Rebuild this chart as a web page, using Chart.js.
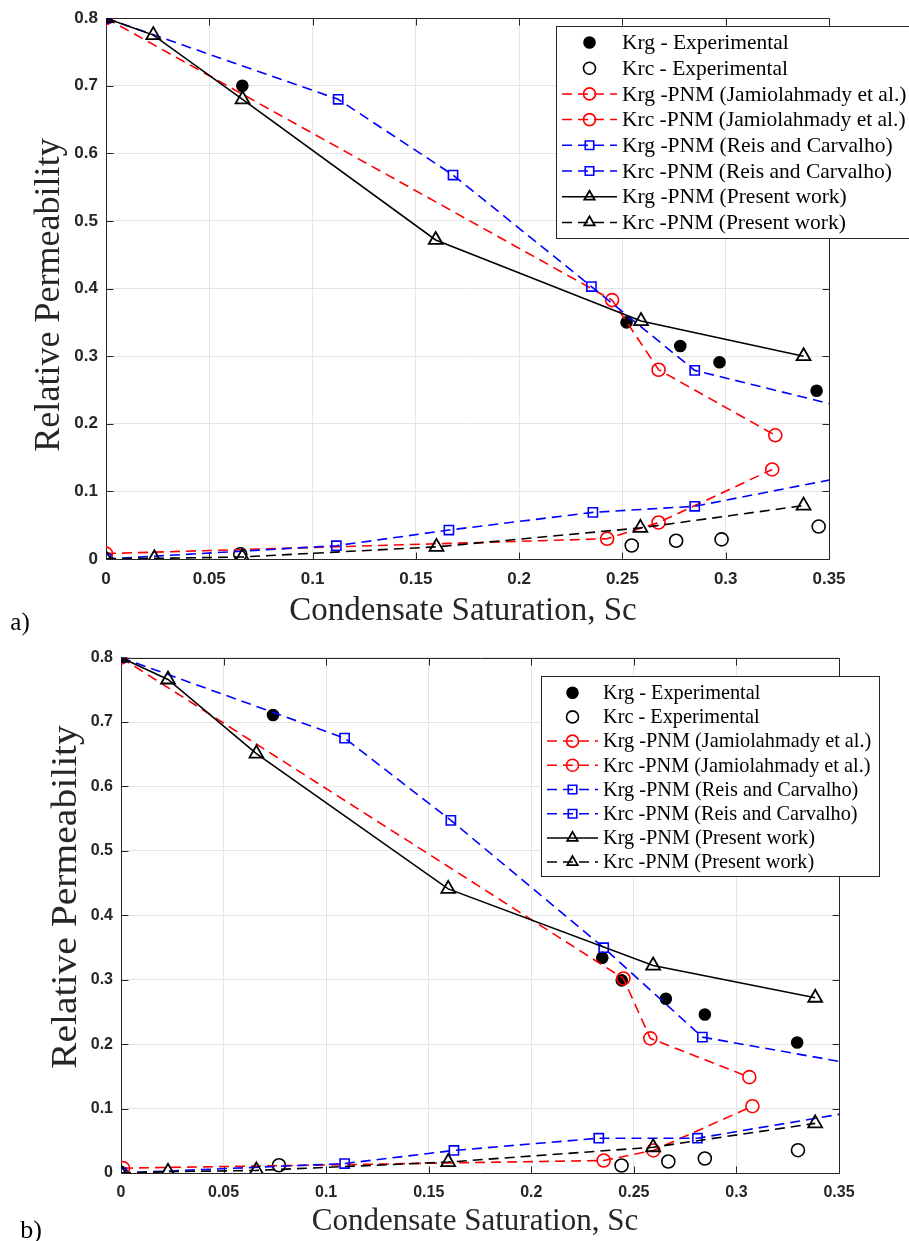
<!DOCTYPE html>
<html>
<head>
<meta charset="utf-8">
<script src="https://cdn.jsdelivr.net/npm/chart.js@4.4.1/dist/chart.umd.min.js"></script>
<style>
  html, body { margin: 0; padding: 0; background: #fff; }
  #wrapA { position: absolute; left: 0; top: 0; width: 909px; height: 640px; }
  #wrapB { position: absolute; left: 0; top: 640px; width: 909px; height: 601px; }
</style>
</head>
<body>
<div id="wrapA"><canvas id="chartA" width="909" height="640"></canvas></div>
<div id="wrapB"><canvas id="chartB" width="909" height="601"></canvas></div>
<script>
const xTickValues = [0, 0.05, 0.1, 0.15, 0.2, 0.25, 0.3, 0.35];
const xTickLabels = ['0', '0.05', '0.1', '0.15', '0.2', '0.25', '0.3', '0.35'];
const yTickValues = [0, 0.1, 0.2, 0.3, 0.4, 0.5, 0.6, 0.7, 0.8];
const yTickLabels = ['0', '0.1', '0.2', '0.3', '0.4', '0.5', '0.6', '0.7', '0.8'];

const xTitle = 'Condensate Saturation, Sc';
const yTitle = 'Relative Permeability';

const seriesNames = [
  'Krg - Experimental',
  'Krc - Experimental',
  'Krg -PNM (Jamiolahmady et al.)',
  'Krc -PNM (Jamiolahmady et al.)',
  'Krg -PNM (Reis and Carvalho)',
  'Krc -PNM (Reis and Carvalho)',
  'Krg -PNM (Present work)',
  'Krc -PNM (Present work)'
];

// panel a)
const aKrgExpX = [0, 0.066, 0.252, 0.278, 0.297, 0.344];
const aKrgExpY = [0.8, 0.70, 0.35, 0.315, 0.291, 0.249];
const aKrcExpX = [0, 0.065, 0.2545, 0.276, 0.298, 0.345];
const aKrcExpY = [0, 0.007, 0.020, 0.027, 0.029, 0.048];
const aKrgJamX = [0, 0.245, 0.2675, 0.324];
const aKrgJamY = [0.8, 0.383, 0.280, 0.183];
const aKrcJamX = [0, 0.2426, 0.2675, 0.3225];
const aKrcJamY = [0.008, 0.030, 0.054, 0.1325];
const aKrgReisX = [0, 0.1124, 0.168, 0.235, 0.285, 0.37];
const aKrgReisY = [0.8, 0.680, 0.568, 0.403, 0.279, 0.215];
const aKrcReisX = [0, 0.1115, 0.166, 0.2357, 0.285, 0.37];
const aKrcReisY = [0, 0.0197, 0.0428, 0.069, 0.078, 0.1286];
const aKrgPresX = [0, 0.0229, 0.0661, 0.1596, 0.259, 0.3377];
const aKrgPresY = [0.8, 0.775, 0.680, 0.472, 0.352, 0.300];
const aKrcPresX = [0, 0.0234, 0.066, 0.16, 0.2587, 0.3377];
const aKrcPresY = [0, 0.001, 0.003, 0.018, 0.046, 0.079];

// panel b)
const bKrgExpX = [0, 0.0741, 0.2346, 0.2441, 0.2656, 0.2846, 0.3296];
const bKrgExpY = [0.8, 0.711, 0.334, 0.299, 0.2705, 0.246, 0.2026];
const bKrcExpX = [0, 0.077, 0.244, 0.2668, 0.2846, 0.330];
const bKrcExpY = [0, 0.012, 0.0116, 0.0179, 0.0225, 0.0354];
const bKrgJamX = [0, 0.2449, 0.258, 0.3063];
const bKrgJamY = [0.8, 0.302, 0.209, 0.1488];
const bKrcJamX = [0.001, 0.2353, 0.2595, 0.3078];
const bKrcJamY = [0.0075, 0.0194, 0.035, 0.1037];
const bKrgReisX = [0, 0.109, 0.1608, 0.2353, 0.2834, 0.37];
const bKrgReisY = [0.8, 0.675, 0.5474, 0.3497, 0.2109, 0.162];
const bKrcReisX = [0, 0.109, 0.1623, 0.2329, 0.281, 0.37];
const bKrcReisY = [0, 0.0147, 0.035, 0.054, 0.054, 0.1017];
const bKrgPresX = [0, 0.0229, 0.066, 0.1595, 0.2594, 0.3384];
const bKrgPresY = [0.8, 0.766, 0.651, 0.441, 0.322, 0.272];
const bKrcPresX = [0, 0.0229, 0.066, 0.1595, 0.2594, 0.3384];
const bKrcPresY = [0, 0.002, 0.004, 0.017, 0.040, 0.077];

const seriesStyles = [
  { color: '#000000', line: false, marker: 'circle', r: 5.5, filled: true },
  { color: '#000000', line: false, marker: 'circle', r: 6.5 },
  { color: '#ff0000', dash: [10, 6], marker: 'circle', r: 6.5 },
  { color: '#ff0000', dash: [10, 6], marker: 'circle', r: 6.5 },
  { color: '#0000ff', dash: [10, 6], marker: 'rect', r: 6.5 },
  { color: '#0000ff', dash: [10, 6], marker: 'rect', r: 6.5 },
  { color: '#000000', dash: [], marker: 'triangle', r: 8 },
  { color: '#000000', dash: [10, 6], marker: 'triangle', r: 8 }
];

Chart.defaults.font.family = '"Liberation Sans", Arial, sans-serif';

function buildDatasets(xs, ys) {
  return seriesStyles.map((st, i) => ({
    label: seriesNames[i],
    data: xs[i].map((x, j) => ({ x: x, y: ys[i][j] })),
    showLine: st.line !== false,
    borderColor: st.color,
    borderWidth: 1.6,
    borderDash: st.dash || [],
    pointStyle: st.marker,
    pointRadius: st.r,
    pointBorderWidth: st.marker === 'triangle' ? 1.8 : 1.6,
    pointBorderColor: st.color,
    pointBackgroundColor: st.filled ? st.color : 'rgba(0,0,0,0)',
    backgroundColor: st.filled ? st.color : 'rgba(0,0,0,0)',
    fill: false,
    tension: 0,
    order: seriesStyles.length - i
  }));
}

function drawMarker(ctx, st, x, y) {
  ctx.save();
  ctx.setLineDash([]);
  ctx.strokeStyle = st.color;
  ctx.fillStyle = st.filled ? st.color : 'rgba(0,0,0,0)';
  ctx.lineWidth = st.marker === 'triangle' ? 1.8 : 1.6;
  ctx.beginPath();
  if (st.marker === 'circle') {
    ctx.arc(x, y, st.r, 0, Math.PI * 2);
  } else if (st.marker === 'rect') {
    const s = st.r * Math.SQRT1_2;
    ctx.rect(x - s, y - s, 2 * s, 2 * s);
  } else {
    const r = st.r;
    ctx.moveTo(x, y - r);
    ctx.lineTo(x + 0.866 * r, y + 0.5 * r);
    ctx.lineTo(x - 0.866 * r, y + 0.5 * r);
    ctx.closePath();
  }
  if (st.filled) ctx.fill();
  ctx.stroke();
  ctx.restore();
}

// box, inward ticks
const framePlugin = {
  id: 'matlabFrame',
  beforeDatasetsDraw(chart) {
    const { ctx, chartArea: a, scales } = chart;
    const l = Math.round(a.left) + 0.5, r = Math.round(a.right) + 0.5;
    const t = Math.round(a.top) + 0.5, b = Math.round(a.bottom) + 0.5;
    const tl = 7;
    ctx.save();
    ctx.strokeStyle = '#262626';
    ctx.lineWidth = 1;
    ctx.beginPath();
    ctx.rect(l, t, r - l, b - t);
    scales.x.ticks.forEach(tk => {
      const px = Math.round(scales.x.getPixelForValue(tk.value)) + 0.5;
      ctx.moveTo(px, b); ctx.lineTo(px, b - tl);
      ctx.moveTo(px, t); ctx.lineTo(px, t + tl);
    });
    scales.y.ticks.forEach(tk => {
      const py = Math.round(scales.y.getPixelForValue(tk.value)) + 0.5;
      ctx.moveTo(l, py); ctx.lineTo(l + tl, py);
      ctx.moveTo(r, py); ctx.lineTo(r - tl, py);
    });
    ctx.stroke();
    ctx.restore();
  }
};

// axis titles and panel letter
const textPlugin = {
  id: 'axisText',
  afterDraw(chart, args, o) {
    const ctx = chart.ctx;
    const serif = '"Liberation Serif", "Times New Roman", serif';
    ctx.save();
    ctx.fillStyle = '#262626';
    ctx.textAlign = 'center';
    ctx.textBaseline = 'middle';
    ctx.font = o.xSize + 'px ' + serif;
    ctx.fillText(xTitle, o.xPos[0], o.xPos[1]);
    ctx.save();
    ctx.translate(o.yPos[0], o.yPos[1]);
    ctx.rotate(-Math.PI / 2);
    ctx.scale(o.yStretch, 1);
    ctx.font = o.ySize + 'px ' + serif;
    ctx.fillText(yTitle, 0, 0);
    ctx.restore();
    ctx.fillStyle = '#000';
    ctx.font = o.panelSize + 'px ' + serif;
    ctx.fillText(o.panel, o.panelPos[0], o.panelPos[1]);
    ctx.restore();
  }
};

const legendPlugin = {
  id: 'matlabLegend',
  afterDraw(chart, args, o) {
    const ctx = chart.ctx;
    ctx.save();
    ctx.fillStyle = '#fff';
    ctx.strokeStyle = '#262626';
    ctx.lineWidth = 1;
    ctx.fillRect(o.box[0], o.box[1], o.box[2], o.box[3]);
    ctx.strokeRect(o.box[0] + 0.5, o.box[1] + 0.5, o.box[2], o.box[3]);
    chart.data.datasets.forEach((ds, i) => {
      const st = seriesStyles[i];
      const y = o.rowY + i * o.rowStep;
      if (st.line !== false) {
        ctx.save();
        ctx.strokeStyle = st.color;
        ctx.lineWidth = 1.5;
        ctx.setLineDash(st.dash);
        ctx.beginPath();
        ctx.moveTo(o.sample[0], y);
        ctx.lineTo(o.sample[1], y);
        ctx.stroke();
        ctx.restore();
      }
      drawMarker(ctx, Object.assign({}, st, { r: Math.min(st.r, 6) }), (o.sample[0] + o.sample[1]) / 2, y);
      ctx.fillStyle = '#000';
      ctx.textAlign = 'left';
      ctx.textBaseline = 'middle';
      ctx.font = o.fontSize + 'px "Liberation Serif", "Times New Roman", serif';
      ctx.fillText(ds.label, o.textX, y + 1);
    });
    ctx.restore();
  }
};

function makeChart(id, datasets, cfg) {
  return new Chart(document.getElementById(id), {
    type: 'scatter',
    data: { datasets: datasets },
    options: {
      responsive: false,
      animation: false,
      devicePixelRatio: 1,
      layout: { padding: { top: cfg.padTop, right: cfg.padRight, left: 0, bottom: 0 } },
      plugins: {
        legend: { display: false },
        tooltip: { enabled: false },
        axisText: cfg.text,
        matlabLegend: cfg.legend
      },
      scales: {
        x: {
          type: 'linear',
          min: 0,
          max: 0.35,
          afterBuildTicks: s => { s.ticks = xTickValues.map(v => ({ value: v })); },
          afterFit: s => { s.height = cfg.xAxisH; },
          grid: { color: '#e5e5e5', lineWidth: 1, drawTicks: false },
          border: { display: false },
          ticks: {
            padding: cfg.tickPad,
            color: '#262626',
            autoSkip: false,
            maxRotation: 0,
            font: { size: cfg.tickSize, weight: 'bold' },
            callback: (v, i) => xTickLabels[i]
          }
        },
        y: {
          type: 'linear',
          min: 0,
          max: 0.8,
          afterBuildTicks: s => { s.ticks = yTickValues.map(v => ({ value: v })); },
          afterFit: s => { s.width = cfg.yAxisW; },
          grid: { color: '#e5e5e5', lineWidth: 1, drawTicks: false },
          border: { display: false },
          ticks: {
            padding: 8,
            color: '#262626',
            autoSkip: false,
            font: { size: cfg.tickSize, weight: 'bold' },
            callback: (v, i) => yTickLabels[i]
          }
        }
      }
    },
    plugins: [framePlugin, textPlugin, legendPlugin]
  });
}

makeChart('chartA',
  buildDatasets(
    [aKrgExpX, aKrcExpX, aKrgJamX, aKrcJamX, aKrgReisX, aKrcReisX, aKrgPresX, aKrcPresX],
    [aKrgExpY, aKrcExpY, aKrgJamY, aKrcJamY, aKrgReisY, aKrcReisY, aKrgPresY, aKrcPresY]),
  {
    padTop: 18, padRight: 80, xAxisH: 81, yAxisW: 106, tickPad: 10, tickSize: 17,
    text: { xSize: 33, xPos: [463, 611], ySize: 35, yPos: [50, 295], yStretch: 1.03,
            panel: 'a)', panelSize: 25, panelPos: [20, 623] },
    legend: { box: [556, 26, 360, 212], rowY: 42.5, rowStep: 25.7, sample: [562, 617],
              textX: 622, fontSize: 21.5 }
  });

makeChart('chartB',
  buildDatasets(
    [bKrgExpX, bKrcExpX, bKrgJamX, bKrcJamX, bKrgReisX, bKrcReisX, bKrgPresX, bKrcPresX],
    [bKrgExpY, bKrcExpY, bKrgJamY, bKrcJamY, bKrgReisY, bKrcReisY, bKrgPresY, bKrcPresY]),
  {
    padTop: 17, padRight: 70, xAxisH: 68, yAxisW: 121, tickPad: 10, tickSize: 16,
    text: { xSize: 31, xPos: [475, 582], ySize: 35, yPos: [67, 257], yStretch: 1.13,
            panel: 'b)', panelSize: 26, panelPos: [31, 591] },
    legend: { box: [541, 36, 338, 200], rowY: 52.7, rowStep: 24.2, sample: [547, 598],
              textX: 603, fontSize: 20.3 }
  });
</script>
</body>
</html>
